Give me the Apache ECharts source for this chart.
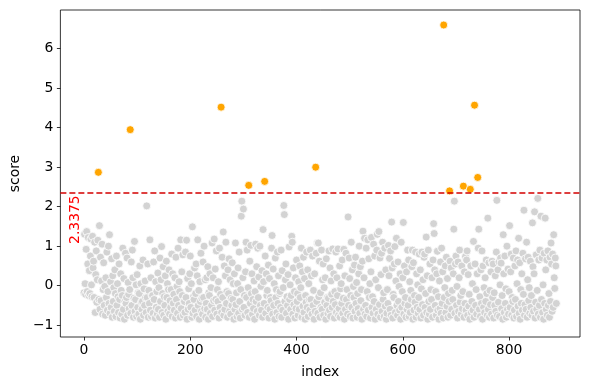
<!DOCTYPE html>
<html>
<head>
<meta charset="utf-8">
<script src="https://cdn.jsdelivr.net/npm/echarts@6/dist/echarts.min.js"></script>
<style>html,body{margin:0;padding:0;background:#fff;}#c{width:590px;height:390px;}</style>
</head>
<body>
<div id="c"></div>
<script>
const threshold = 2.3375;
const xTicks = [0, 200, 400, 600, 800];
const yTicks = [-1, 0, 1, 2, 3, 4, 5, 6];
// score per index (0..889), read row by row (10 per row)
const scores = [
-0.18,1.3,0.05,-0.22,0.92,1.37,-0.15,0.55,1.22,-0.25,
0.38,-0.2,0.75,1.18,0.02,-0.28,1.25,0.45,0.62,-0.3,
1.1,-0.68,0.28,0.88,-0.42,0.15,1.15,2.87,-0.35,1.52,
-0.6,0.72,-0.38,0.12,1.05,-0.72,-0.1,0.58,-0.5,-0.02,
-0.75,0.2,-0.3,0.85,-0.62,-0.15,1.0,-0.45,1.29,-0.7,
0.1,-0.55,0.68,-0.8,0.25,-0.4,-0.05,-0.65,0.4,-0.2,
-0.78,0.75,-0.5,0.05,-0.28,-0.68,0.55,-0.35,-0.82,0.3,
-0.12,-0.72,-0.25,0.95,-0.6,0.18,-0.85,-0.4,0.82,-0.45,
-0.3,0.7,-0.75,0.08,-0.22,-0.58,-0.1,3.95,-0.7,0.6,
-0.5,0.9,0.2,-0.8,-0.32,1.12,-0.65,-0.35,0.02,-0.78,
0.28,-0.55,-0.18,-0.72,-0.2,0.5,-0.85,0.05,-0.42,-0.6,
-0.4,0.65,-0.75,-0.08,-0.5,0.12,-0.3,-0.68,2.02,-0.3,
0.55,-0.8,-0.12,-0.45,1.16,-0.62,0.2,-0.78,-0.25,-0.25,
-0.7,0.6,-0.35,0.88,-0.82,0.1,-0.55,-0.15,-0.72,0.32,
-0.6,-0.05,-0.8,0.7,-0.4,0.15,0.99,-0.68,-0.2,0.48,
-0.75,-0.28,-0.5,0.25,-0.85,0.62,-0.3,0.05,-0.65,-0.1,
0.4,-0.72,-0.38,-0.55,-0.1,0.8,-0.78,0.3,-0.45,-0.22,
-0.62,0.2,-0.82,0.72,-0.35,-0.02,-0.7,0.95,-0.5,0.1,
-0.15,-0.8,1.16,-0.58,0.35,-0.25,0.78,-0.75,-0.4,-0.4,
-0.68,0.85,-0.3,1.15,-0.85,0.18,-0.6,-0.08,-0.45,0.3,
0.75,-0.55,0.05,-0.8,1.49,-0.7,-0.28,-0.35,0.45,-0.62,
-0.2,0.55,-0.78,0.25,1.16,-0.5,-0.12,-0.85,0.1,-0.4,
0.82,-0.65,-0.32,-0.72,0.6,-0.3,1.0,-0.58,0.15,-0.8,
-0.45,0.2,-0.6,0.48,-0.85,-0.18,-0.25,0.3,-0.7,-0.05,
-0.5,1.08,-0.78,0.2,-0.38,1.18,-0.62,0.42,-0.35,0.88,
-0.72,-0.1,-0.4,0.1,-0.82,0.95,-0.55,-0.22,4.52,-0.68,
0.72,-0.3,1.36,-0.75,0.5,-0.6,0.25,1.1,-0.45,-0.15,
-0.8,0.4,-0.2,0.68,-0.65,0.15,-0.72,-0.32,-0.5,0.58,
-0.35,0.05,-0.85,0.3,-0.6,1.08,-0.48,-0.18,-0.78,0.05,
0.45,-0.7,0.85,-0.4,-0.82,-0.1,1.76,2.14,-0.6,0.2,
1.94,-0.55,-0.25,-0.75,0.35,1.1,-0.3,0.9,-0.68,-0.05,
2.54,-0.8,0.62,-0.45,1.02,-0.2,0.3,-0.72,-0.35,-0.58,
0.12,-0.85,-0.15,1.05,-0.4,0.48,-0.65,0.95,-0.3,0.22,
-0.75,1.0,-0.5,-0.02,-0.62,0.38,-0.8,1.42,0.1,-0.45,
2.64,0.75,-0.7,0.3,-0.25,-0.12,-0.55,0.52,-0.82,0.18,
-0.6,-0.3,-0.38,0.95,1.27,-0.72,0.42,-0.5,0.05,-0.85,
0.7,-0.3,-0.1,-0.68,0.85,-0.45,0.25,-0.78,-0.2,-0.15,
-0.55,0.9,-0.8,0.38,-0.62,-0.05,2.03,1.8,-0.4,0.15,
0.55,-0.7,-0.28,-0.5,0.28,-0.85,0.98,-0.35,0.02,-0.6,
-0.25,1.25,1.1,-0.72,0.45,-0.48,-0.15,-0.82,0.2,-0.58,
0.65,-0.4,-0.2,-0.75,0.1,-0.6,0.5,-0.3,-0.05,0.95,
-0.8,0.35,-0.52,0.72,-0.68,0.18,-0.85,-0.25,-0.42,0.85,
-0.55,0.4,-0.78,0.05,-0.35,-0.62,0.9,-0.35,0.25,-0.72,
0.75,-0.5,-0.12,-0.85,0.3,-0.65,3.0,0.82,-0.4,1.08,
-0.7,1.08,-0.28,0.62,-0.8,-0.18,-0.55,0.9,-0.6,0.15,
0.55,-0.75,-0.05,-0.42,0.2,-0.85,0.68,-0.5,-0.3,-0.7,
-0.32,0.88,-0.62,0.45,-0.78,0.12,-0.22,-0.55,0.93,-0.4,
0.3,-0.82,-0.15,-0.48,0.85,-0.68,0.2,-0.25,0.93,-0.75,
-0.58,0.5,-0.8,-0.08,0.05,-0.45,0.65,-0.7,-0.32,0.92,
-0.85,0.25,-0.6,0.82,-0.35,-0.1,-0.72,1.74,-0.5,0.7,
0.18,-0.78,-0.25,1.1,-0.55,0.4,-0.82,-0.02,-0.3,0.52,
-0.65,0.72,-0.45,0.08,-0.8,-0.2,-0.58,0.3,1.0,-0.7,
0.48,-0.38,-0.1,-0.85,0.62,1.38,-0.6,0.2,1.2,-0.72,
-0.5,0.95,-0.78,-0.15,1.16,-0.62,0.68,-0.3,0.05,-0.82,
0.35,1.22,-0.55,-0.28,-0.7,1.05,-0.4,0.75,-0.85,0.15,
-0.6,0.9,1.3,-0.72,-0.05,1.37,-0.48,0.7,-0.8,0.28,
0.82,-0.65,1.1,-0.35,-0.18,-0.78,0.95,-0.52,0.4,-0.85,
-0.7,-0.1,-0.45,1.02,0.25,0.69,-0.6,0.88,-0.75,1.61,
0.45,-0.82,-0.22,-0.3,0.55,0.99,-0.68,0.12,1.2,-0.5,
-0.75,0.6,-0.4,-0.02,-0.62,0.3,-0.85,1.1,-0.55,-0.15,
0.2,1.6,-0.72,0.5,-0.45,-0.3,-0.8,0.35,-0.6,0.9,
-0.5,0.65,-0.78,0.1,-0.68,-0.12,-0.35,0.48,0.9,-0.85,
0.58,-0.62,-0.25,-0.42,0.85,-0.8,0.3,-0.55,0.02,-0.7,
-0.3,0.8,-0.6,0.4,-0.82,-0.08,0.85,-0.48,0.15,-0.75,
0.72,0.8,-0.55,-0.2,1.23,-0.68,0.25,-0.85,0.9,-0.4,
-0.72,0.55,-0.6,-0.1,-0.35,0.2,-0.8,0.65,1.57,1.32,
0.4,-0.5,-0.15,-0.75,0.3,0.87,-0.62,-0.28,-0.85,0.12,
-0.58,0.6,-0.7,0.95,-0.45,0.35,-0.82,6.6,-0.3,-0.05,
0.5,-0.68,0.72,-0.52,0.18,-0.8,-0.2,-0.4,2.4,0.62,
-0.75,0.45,-0.6,-0.12,-0.35,0.3,1.43,2.14,-0.7,0.55,
0.75,-0.5,-0.02,-0.82,0.6,-0.65,0.2,0.9,-0.42,-0.25,
-0.72,0.5,-0.58,-0.15,2.52,-0.8,0.35,-0.45,0.74,-0.62,
0.65,0.88,-0.75,0.28,-0.52,-0.22,-0.85,2.44,0.5,-0.68,
-0.4,0.05,-0.62,1.12,-0.8,4.57,0.55,-0.5,-0.1,-0.72,
0.3,2.74,0.95,1.43,-0.6,-0.28,-0.78,0.4,-0.45,0.88,
-0.85,0.5,-0.55,-0.05,-0.68,0.2,-0.4,0.65,-0.2,-0.75,
1.71,-0.6,0.58,-0.8,-0.12,-0.48,0.35,-0.72,0.62,-0.3,
0.55,-0.82,-0.18,-0.5,0.25,-0.65,0.85,2.16,-0.75,0.4,
-0.42,0.6,-0.78,0.02,0.7,0.57,-0.58,-0.25,-0.85,1.29,
0.3,-0.68,0.75,-0.45,-0.08,-0.8,1.0,-0.6,0.42,-0.72,
-0.15,1.52,-0.55,0.35,0.8,-0.75,-0.3,-0.4,0.7,-0.82,
-0.62,0.5,-0.35,0.88,-0.78,0.05,0.65,-0.52,1.2,-0.7,
0.58,-0.85,-0.1,-0.45,0.3,-0.62,0.82,-0.22,1.91,-0.75,
-0.48,0.68,-0.6,1.1,-0.8,0.15,0.72,-0.38,-0.05,-0.7,
0.62,-0.55,-0.25,-0.75,1.59,0.48,-0.65,0.3,1.87,-0.82,
-0.42,0.78,-0.6,-0.12,2.21,-0.72,0.65,-0.5,0.9,-0.8,
1.76,-0.35,0.7,-0.68,0.02,-0.85,0.82,-0.45,1.71,0.4,
-0.6,0.65,-0.75,0.88,-0.5,-0.2,-0.8,0.72,-0.4,1.08,
0.55,-0.65,0.8,-0.55,1.29,0.2,-0.07,0.7,0.5,-0.45
];

const normalPts = [], outlierPts = [];
scores.forEach((v, i) => { (v > threshold ? outlierPts : normalPts).push([i, v]); });

const FONT = 'DejaVu Sans';
const fmt = v => String(v).replace('-', '\u2212');
const chart = echarts.init(document.getElementById('c'), null, {renderer: 'canvas'});
const option = {
  animation: false,
  backgroundColor: '#fff',
  grid: {left: 60, top: 10, right: 10, bottom: 53, show: true, borderColor: '#000', borderWidth: 0.8, backgroundColor: 'transparent'},
  xAxis: {
    type: 'value', min: -44.5, max: 933.5,
    name: 'index', nameLocation: 'middle', nameGap: 28,
    nameTextStyle: {fontFamily: FONT, fontSize: 13.9, color: '#000'},
    splitLine: {show: false},
    axisLine: {show: false, onZero: false},
    axisTick: {show: true, inside: false, length: 3.5, lineStyle: {color: '#000', width: 0.8}, customValues: xTicks},
    axisLabel: {fontFamily: FONT, fontSize: 13.9, color: '#000', margin: 6, customValues: xTicks, formatter: fmt}
  },
  yAxis: {
    type: 'value', min: -1.30, max: 6.98,
    name: 'score', nameLocation: 'middle', nameGap: 36,
    nameTextStyle: {fontFamily: FONT, fontSize: 13.9, color: '#000'},
    splitLine: {show: false},
    axisLine: {show: false, onZero: false},
    axisTick: {show: true, inside: false, length: 3.5, lineStyle: {color: '#000', width: 0.8}, customValues: yTicks},
    axisLabel: {fontFamily: FONT, fontSize: 13.9, color: '#000', margin: 7, customValues: yTicks, formatter: fmt}
  },
  series: [
    {
      type: 'scatter', data: normalPts, symbolSize: 8,
      itemStyle: {color: '#d3d3d3', borderColor: '#fff', borderWidth: 0.8, opacity: 1},
      z: 2
    },
    {
      type: 'scatter', data: outlierPts, symbolSize: 8,
      itemStyle: {color: '#ffa500', borderColor: '#fff', borderWidth: 0.8, opacity: 1},
      z: 3,
      markLine: {
        silent: true, symbol: 'none', animation: false,
        lineStyle: {color: '#d40000', type: [6, 3], width: 1.6},
        label: {show: false},
        data: [{yAxis: threshold}]
      }
    }
  ]
};
chart.setOption(option);
const p = chart.convertToPixel({gridIndex: 0}, [-17, threshold]);
chart.setOption({
  graphic: [{
    type: 'text', x: p[0], y: p[1] + 2, rotation: Math.PI / 2, z: 10,
    style: {text: String(threshold), fill: '#ff0000', font: '13.9px "DejaVu Sans"', align: 'right', verticalAlign: 'middle'}
  }]
});
</script>
</body>
</html>
